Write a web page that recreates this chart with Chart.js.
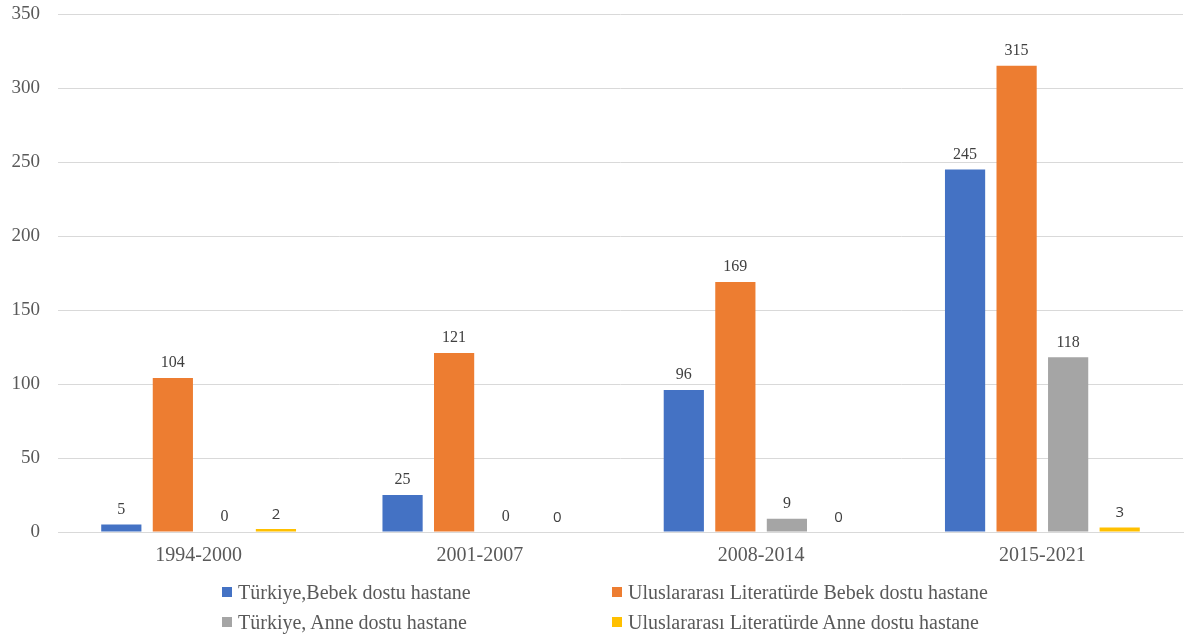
<!DOCTYPE html>
<html>
<head>
<meta charset="utf-8">
<script src="https://cdn.jsdelivr.net/npm/chart.js@4.4.1/dist/chart.umd.min.js"></script>
<style>
  html, body { margin: 0; padding: 0; background: #ffffff; }
  #wrap { position: relative; width: 1189px; height: 637px; }
  #legend { position: absolute; left: 0; top: 0; width: 1189px; height: 637px; pointer-events: none;
    font-family: "Liberation Serif", "DejaVu Serif", serif; font-size: 20px; color: #595959; }
  .li { position: absolute; white-space: nowrap; display: flex; align-items: center; height: 24px; }
  .sw { width: 10px; height: 10px; margin-right: 6px; display: inline-block; }
</style>
</head>
<body>
<div id="wrap">
  <canvas id="c" width="1189" height="637"></canvas>
  <div id="legend"></div>
</div>
<script>
const categories = ["1994-2000", "2001-2007", "2008-2014", "2015-2021"];
const seriesNames = [
  "Türkiye,Bebek dostu hastane",
  "Uluslararası Literatürde Bebek dostu hastane",
  "Türkiye, Anne dostu hastane",
  "Uluslararası Literatürde Anne dostu hastane"
];
const turkiyeBebek = [5, 25, 96, 245];
const uluslararasiBebek = [104, 121, 169, 315];
const turkiyeAnne = [0, 0, 9, 118];
const uluslararasiAnne = [2, 0, 0, 3];
const yTicks = [0, 50, 100, 150, 200, 250, 300, 350];
const colors = ["#4472C4", "#ED7D31", "#A5A5A5", "#FFC000"];

const seriesValues = [turkiyeBebek, uluslararasiBebek, turkiyeAnne, uluslararasiAnne];
const SERIF = '"Liberation Serif", "DejaVu Serif", serif';
const SANS = '"Open Sans", "Liberation Sans", sans-serif';

const valueLabels = {
  id: 'valueLabels',
  afterDatasetsDraw(chart) {
    const ctx = chart.ctx;
    ctx.save();
    ctx.textAlign = 'center';
    ctx.textBaseline = 'bottom';
    chart.data.datasets.forEach((ds, i) => {
      const meta = chart.getDatasetMeta(i);
      ctx.fillStyle = '#404040';
      ctx.font = (i === 3 ? '15px ' + SANS : '16px ' + SERIF);
      meta.data.forEach((bar, j) => {
        ctx.fillText(String(ds.data[j]), bar.x, bar.y - 7);
      });
    });
    ctx.restore();
  }
};

const chart = new Chart(document.getElementById('c'), {
  type: 'bar',
  data: {
    labels: categories,
    datasets: seriesValues.map((vals, i) => ({
      label: seriesNames[i],
      data: vals,
      backgroundColor: colors[i],
      borderWidth: 0,
      categoryPercentage: 0.733,
      barPercentage: 0.78
    }))
  },
  options: {
    responsive: false,
    animation: false,
    events: [],
    layout: { padding: { top: 14, right: 6, bottom: 65, left: 0 } },
    plugins: { legend: { display: false }, tooltip: { enabled: false } },
    scales: {
      x: {
        grid: { display: false, drawTicks: false },
        border: { display: true, color: '#d9d9d9', width: 1 },
        ticks: { color: '#595959', font: { family: SERIF, size: 20 }, padding: 12 },
        afterFit(s) { s.height = 40; s.paddingLeft = 0; s.paddingRight = 0; }
      },
      y: {
        min: 0, max: 350,
        afterBuildTicks(s) { s.ticks = yTicks.map(v => ({ value: v })); },
        grid: { color: '#d9d9d9', lineWidth: 1, drawTicks: false },
        border: { display: false },
        ticks: { color: '#595959', font: { family: SERIF, size: 19 }, padding: 18 },
        afterFit(s) { s.width = 58; s.paddingTop = 0; s.paddingBottom = 0; }
      }
    }
  },
  plugins: [valueLabels]
});

// Legend in two columns, built from the series names
const legend = document.getElementById('legend');
const legendPos = [[222, 580], [612, 580], [222, 610], [612, 610]];
seriesNames.forEach((name, i) => {
  const d = document.createElement('div');
  d.className = 'li';
  d.style.left = legendPos[i][0] + 'px';
  d.style.top = legendPos[i][1] + 'px';
  const sw = document.createElement('span');
  sw.className = 'sw';
  sw.style.background = colors[i];
  const t = document.createElement('span');
  t.textContent = name;
  d.appendChild(sw); d.appendChild(t);
  legend.appendChild(d);
});
</script>
</body>
</html>
